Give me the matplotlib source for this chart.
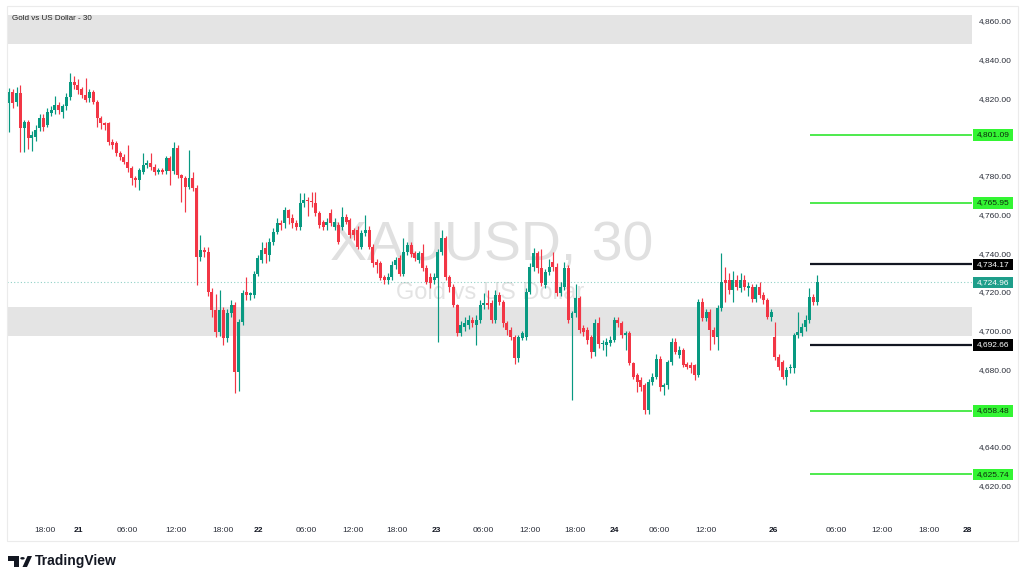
import matplotlib
matplotlib.use('Agg')
import matplotlib.pyplot as plt
from matplotlib.patches import Rectangle, Circle, Polygon
from matplotlib.transforms import blended_transform_factory
from matplotlib.ticker import FuncFormatter
import numpy as np

plt.rcParams['font.family'] = ['Liberation Sans', 'DejaVu Sans']

# ---------------- data (30-minute XAUUSD candles) ----------------
opens = [
    4817.5, 4823.5, 4818.3, 4822.7, 4804.6, 4807.7, 4799.4, 4800.2, 4804.6, 4809.7,
    4806.3, 4812.3, 4814.0, 4816.6, 4813.2, 4815.8, 4820.9, 4828.3, 4827.0, 4824.8,
    4821.8, 4820.0, 4823.5, 4818.3, 4809.7, 4807.1, 4807.1, 4797.7, 4796.8, 4792.0,
    4789.9, 4787.3, 4783.9, 4778.7, 4777.9, 4782.2, 4785.6, 4786.5, 4784.7, 4782.2,
    4783.0, 4782.5, 4789.0, 4782.5, 4794.2, 4780.4, 4778.7, 4774.4, 4778.7, 4773.5,
    4738.2, 4741.7, 4740.8, 4720.1, 4710.6, 4699.4, 4710.6, 4696.0, 4708.9, 4713.2,
    4678.7, 4704.6, 4720.0, 4718.4, 4718.4, 4729.2, 4736.5, 4742.5, 4739.0, 4745.9,
    4751.1, 4755.4, 4755.4, 4762.3, 4758.0, 4755.4, 4753.7, 4765.7, 4767.1, 4767.1,
    4765.7, 4760.6, 4756.3, 4754.5, 4760.6, 4753.7, 4754.5, 4753.7, 4758.8, 4757.1,
    4752.0, 4752.0, 4743.3, 4750.2, 4752.0, 4743.3, 4735.5, 4734.7, 4727.8, 4726.1,
    4727.8, 4733.9, 4737.3, 4729.5, 4740.8, 4744.2, 4739.9, 4736.5, 4739.9, 4732.2,
    4727.9, 4726.1, 4727.0, 4740.8, 4747.7, 4727.9, 4722.7, 4713.2, 4698.6, 4702.0,
    4702.9, 4705.5, 4702.9, 4705.5, 4713.2, 4714.1, 4714.1, 4705.5, 4718.4, 4715.0,
    4703.8, 4700.3, 4696.9, 4685.7, 4696.4, 4696.9, 4720.1, 4733.0, 4739.9, 4732.2,
    4723.6, 4730.4, 4735.6, 4733.0, 4719.3, 4722.7, 4732.2, 4706.4, 4708.9, 4716.7,
    4701.2, 4700.3, 4696.9, 4689.1, 4704.0, 4693.0, 4692.6, 4693.4, 4695.1, 4705.4,
    4703.7, 4697.7, 4698.9, 4683.1, 4677.0, 4674.4, 4671.9, 4658.9, 4673.6, 4676.2,
    4685.6, 4671.0, 4671.9, 4683.9, 4694.3, 4687.4, 4689.9, 4683.0, 4682.2, 4682.2,
    4677.0, 4714.9, 4706.3, 4709.7, 4700.3, 4696.8, 4711.5, 4726.1, 4726.1, 4721.0,
    4726.1, 4722.0, 4726.1, 4722.2, 4722.7, 4716.6, 4722.7, 4718.4, 4715.8, 4706.8,
    4696.8, 4686.5, 4683.9, 4676.2, 4680.5, 4680.5, 4697.7, 4698.9, 4702.0, 4705.4,
    4717.5, 4714.9]

highs = [
    4825.2, 4825.0, 4826.0, 4827.0, 4809.0, 4809.0, 4803.0, 4806.0, 4812.0, 4812.0,
    4815.0, 4816.0, 4821.0, 4818.0, 4817.0, 4823.0, 4833.0, 4831.3, 4830.0, 4826.0,
    4830.4, 4825.0, 4824.5, 4819.0, 4811.0, 4808.0, 4808.0, 4799.0, 4798.0, 4793.0,
    4791.0, 4796.0, 4785.0, 4780.0, 4784.0, 4791.6, 4788.0, 4791.6, 4786.0, 4784.0,
    4784.0, 4790.0, 4790.0, 4797.3, 4796.0, 4781.0, 4780.0, 4793.4, 4782.0, 4775.0,
    4749.4, 4743.0, 4743.0, 4722.0, 4719.0, 4721.0, 4712.0, 4711.0, 4716.0, 4715.0,
    4706.0, 4721.0, 4727.8, 4720.0, 4731.0, 4739.0, 4746.0, 4746.0, 4748.0, 4753.0,
    4758.0, 4757.0, 4764.0, 4763.0, 4760.0, 4757.0, 4770.9, 4770.9, 4769.0, 4771.8,
    4771.8, 4762.0, 4757.0, 4758.0, 4763.0, 4758.0, 4756.0, 4764.0, 4760.0, 4758.0,
    4753.0, 4754.0, 4752.0, 4759.7, 4754.0, 4745.0, 4737.0, 4736.0, 4729.0, 4730.0,
    4736.0, 4738.0, 4739.0, 4748.0, 4746.0, 4746.0, 4741.0, 4741.0, 4745.0, 4734.0,
    4730.0, 4730.0, 4742.0, 4752.0, 4749.0, 4729.0, 4724.0, 4714.0, 4705.0, 4707.0,
    4708.0, 4707.0, 4708.0, 4716.0, 4719.3, 4721.0, 4716.0, 4721.0, 4720.0, 4716.0,
    4705.0, 4702.0, 4698.0, 4698.0, 4700.0, 4722.0, 4735.0, 4742.5, 4741.0, 4742.0,
    4732.0, 4737.0, 4740.8, 4735.0, 4725.0, 4735.6, 4734.0, 4710.0, 4724.0, 4718.0,
    4703.0, 4702.0, 4698.0, 4706.0, 4707.0, 4695.0, 4696.0, 4697.0, 4707.0, 4707.0,
    4705.0, 4700.0, 4700.0, 4684.0, 4678.0, 4676.0, 4673.0, 4675.0, 4678.0, 4688.0,
    4687.0, 4673.0, 4685.0, 4696.0, 4696.0, 4692.0, 4691.0, 4684.0, 4684.0, 4683.0,
    4716.5, 4717.0, 4711.0, 4711.0, 4702.0, 4713.0, 4739.9, 4733.0, 4730.0, 4731.0,
    4729.0, 4730.0, 4728.7, 4725.0, 4724.0, 4724.0, 4725.0, 4720.0, 4717.0, 4711.0,
    4704.6, 4688.0, 4685.0, 4681.0, 4683.0, 4699.0, 4709.7, 4704.0, 4708.0, 4722.0,
    4719.0, 4728.7]

lows = [
    4802.8, 4815.0, 4816.0, 4792.5, 4792.5, 4794.0, 4793.0, 4798.0, 4803.0, 4803.0,
    4805.0, 4811.0, 4812.0, 4812.0, 4810.0, 4814.0, 4819.0, 4825.0, 4822.0, 4820.0,
    4818.0, 4818.0, 4817.0, 4805.4, 4804.0, 4803.7, 4796.0, 4794.0, 4790.0, 4788.0,
    4786.0, 4782.0, 4775.3, 4774.4, 4772.7, 4781.0, 4784.0, 4783.0, 4780.4, 4781.0,
    4781.0, 4781.0, 4775.0, 4781.0, 4779.0, 4766.7, 4761.5, 4773.0, 4772.0, 4723.6,
    4736.0, 4738.0, 4718.0, 4707.0, 4696.8, 4697.0, 4692.5, 4694.0, 4707.0, 4668.0,
    4669.0, 4703.0, 4716.0, 4716.0, 4717.0, 4728.0, 4735.0, 4735.0, 4736.0, 4744.0,
    4750.0, 4752.0, 4753.0, 4755.0, 4753.0, 4752.0, 4752.0, 4764.0, 4759.0, 4764.0,
    4759.0, 4753.0, 4752.0, 4752.0, 4754.0, 4752.0, 4745.0, 4752.0, 4755.0, 4748.0,
    4747.0, 4742.0, 4742.0, 4749.0, 4742.0, 4733.0, 4730.0, 4726.0, 4724.0, 4724.0,
    4726.0, 4732.0, 4728.0, 4728.0, 4739.0, 4738.0, 4736.0, 4735.0, 4731.0, 4724.0,
    4722.0, 4724.0, 4694.3, 4739.0, 4726.0, 4720.0, 4712.0, 4697.0, 4697.0, 4700.0,
    4701.0, 4702.0, 4692.6, 4704.0, 4711.0, 4711.0, 4704.0, 4704.0, 4713.0, 4702.0,
    4698.0, 4695.0, 4683.0, 4684.0, 4695.0, 4695.0, 4719.0, 4731.0, 4730.0, 4723.0,
    4722.0, 4729.0, 4731.0, 4718.0, 4718.0, 4721.0, 4704.0, 4664.1, 4707.0, 4699.0,
    4697.0, 4693.0, 4686.0, 4687.0, 4691.0, 4690.0, 4687.0, 4692.0, 4694.0, 4702.0,
    4696.0, 4690.0, 4682.0, 4675.0, 4668.4, 4669.0, 4657.0, 4657.0, 4672.0, 4675.0,
    4669.0, 4666.7, 4670.0, 4682.0, 4688.0, 4686.0, 4681.0, 4680.0, 4678.0, 4674.4,
    4676.0, 4705.0, 4705.0, 4690.0, 4693.0, 4690.0, 4710.0, 4715.0, 4719.0, 4715.0,
    4721.0, 4720.0, 4721.0, 4718.0, 4715.0, 4715.0, 4717.0, 4714.0, 4706.0, 4705.0,
    4685.0, 4679.6, 4675.0, 4671.9, 4678.0, 4678.0, 4696.0, 4697.0, 4700.0, 4704.0,
    4713.0, 4713.0]

closes = [
    4823.5, 4817.5, 4822.7, 4804.6, 4807.7, 4799.4, 4801.1, 4803.7, 4809.7, 4805.4,
    4813.2, 4814.0, 4816.6, 4814.0, 4815.8, 4820.9, 4828.7, 4827.0, 4824.4, 4821.8,
    4819.2, 4823.5, 4818.3, 4809.7, 4807.1, 4806.3, 4797.7, 4796.0, 4791.6, 4789.9,
    4787.3, 4783.9, 4778.7, 4777.9, 4783.0, 4785.6, 4786.5, 4784.7, 4782.2, 4783.0,
    4781.8, 4789.0, 4782.5, 4794.2, 4780.4, 4778.7, 4774.4, 4778.7, 4773.5, 4738.2,
    4741.7, 4740.8, 4720.1, 4710.6, 4699.4, 4710.6, 4696.0, 4708.9, 4713.2, 4678.7,
    4704.6, 4719.2, 4718.4, 4719.2, 4729.2, 4737.3, 4741.6, 4739.5, 4745.9, 4751.1,
    4755.4, 4754.5, 4762.3, 4758.0, 4755.4, 4753.7, 4765.7, 4767.5, 4766.8, 4766.6,
    4760.6, 4754.5, 4753.7, 4756.3, 4755.4, 4756.3, 4745.9, 4758.8, 4756.3, 4749.4,
    4749.4, 4743.3, 4750.2, 4752.0, 4743.3, 4734.7, 4733.8, 4727.0, 4726.1, 4727.8,
    4733.9, 4736.4, 4729.5, 4740.8, 4744.2, 4739.5, 4737.3, 4739.9, 4732.2, 4725.3,
    4724.4, 4727.9, 4740.8, 4747.7, 4727.9, 4722.7, 4713.2, 4698.6, 4702.9, 4703.8,
    4705.5, 4703.8, 4705.5, 4713.2, 4714.1, 4713.2, 4705.5, 4718.4, 4715.0, 4703.8,
    4700.3, 4696.9, 4685.7, 4696.9, 4698.6, 4720.1, 4733.0, 4739.9, 4732.2, 4724.4,
    4730.4, 4733.0, 4733.0, 4719.3, 4722.7, 4732.2, 4705.5, 4708.9, 4716.7, 4700.3,
    4699.5, 4695.1, 4689.1, 4704.0, 4693.0, 4693.5, 4694.3, 4695.1, 4705.5, 4703.7,
    4697.7, 4698.9, 4683.1, 4676.2, 4673.6, 4671.0, 4658.9, 4673.6, 4676.2, 4685.6,
    4671.0, 4671.9, 4683.9, 4694.3, 4689.1, 4689.9, 4682.2, 4681.3, 4680.5, 4677.0,
    4714.9, 4706.3, 4709.7, 4700.3, 4696.8, 4711.5, 4725.3, 4724.4, 4721.0, 4726.1,
    4722.7, 4726.1, 4722.7, 4723.0, 4716.6, 4722.3, 4718.4, 4715.8, 4707.2, 4709.7,
    4686.5, 4681.3, 4676.2, 4679.6, 4681.3, 4697.7, 4699.4, 4702.0, 4705.4, 4717.5,
    4714.9, 4724.96]

# time axis (bar-index positions of the labels)
time_tick_pos = [9.4, 18.0, 31.0, 43.5, 55.8, 65.2, 77.7, 89.7, 101.4, 111.6,
                 123.9, 135.9, 147.8, 158.0, 169.8, 182.0, 199.7, 215.9, 227.9,
                 240.2, 250.1]
time_tick_labels = ['18:00', '21', '06:00', '12:00', '18:00', '22', '06:00', '12:00',
                    '18:00', '23', '06:00', '12:00', '18:00', '24', '06:00', '12:00',
                    '26', '06:00', '12:00', '18:00', '28']
day_labels = ['21', '22', '23', '24', '26', '28']

# price-scale labels (4,800 and 4,660 are hidden behind level labels in the original)
price_ticks = [4620, 4640, 4680, 4700, 4720, 4740, 4760, 4780, 4820, 4840, 4860]

green_levels = [4801.09, 4765.95, 4658.48, 4625.74]
black_levels = [4734.17, 4692.66]
last_price = 4724.96
gray_zones = [(4848.1, 4863.1), (4697.2, 4712.2)]
level_start_bar = 209.1

title_text = 'Gold vs US Dollar - 30'
watermark_main = 'XAUUSD, 30'
watermark_sub = 'Gold vs US Dollar'

UP = '#089981'
DOWN = '#F23645'
LEVEL_GREEN = '#2fe62f'
TEXT = '#2a2e39'

# ---------------- figure ----------------
W, H = 1024, 582
fig = plt.figure(figsize=(W / 100, H / 100), dpi=100)
fig.patch.set_facecolor('white')
ax = fig.add_axes([7 / W, 1 - 518 / H, 965 / W, 511 / H])
ax.set_facecolor('white')
XMIN, XMAX = -0.52, 251.44
ax.set_xlim(XMIN, XMAX)
ax.set_ylim(4603.2, 4867.2)
for s in ax.spines.values():
    s.set_visible(False)

# zones
for lo, hi in gray_zones:
    ax.axhspan(lo, hi, color='#e4e4e4', lw=0, zorder=0)

# watermark
ax.text(0.5026, 0.532, watermark_main, transform=ax.transAxes, ha='center', va='center',
        fontsize=40, color='#e0e0e0', zorder=1)
ax.text(0.5005, 0.440, watermark_sub, transform=ax.transAxes, ha='center', va='center',
        fontsize=17, color='#e3e3e3', zorder=1)

# candles
o = np.array(opens); h = np.array(highs); l = np.array(lows); c = np.array(closes)
x = np.arange(len(c))
up = c >= o
cols = np.where(up, UP, DOWN)
body_lo = np.minimum(o, c)
body_h = np.maximum(np.abs(c - o), 0.5)
ax.vlines(x, np.minimum(l, body_lo), np.maximum(h, np.maximum(o, c)), colors=cols,
          linewidth=0.85, zorder=3.9)
ax.bar(x, body_h, bottom=body_lo, width=0.78, color=cols, linewidth=0, zorder=4)

# last price dotted line
ax.axhline(last_price, color=UP, alpha=0.45, lw=0.8, ls=(0, (1, 2)), zorder=2)

# level lines
ax.hlines(green_levels, level_start_bar, XMAX, colors=LEVEL_GREEN, lw=1.2, zorder=5)
ax.hlines(black_levels, level_start_bar, XMAX, colors='#131722', lw=1.6, zorder=5)

# axes ticks
ax.yaxis.tick_right()
ax.set_yticks(price_ticks)
ax.yaxis.set_major_formatter(FuncFormatter(lambda v, p: f'{v:,.2f}'))
ax.tick_params(axis='y', length=0, pad=5, labelsize=6, labelcolor=TEXT)
ax.set_xticks(time_tick_pos)
ax.set_xticklabels(time_tick_labels)
ax.tick_params(axis='x', length=0, pad=6.5, labelsize=6, labelcolor=TEXT)
for t in ax.get_xticklabels():
    if t.get_text() in day_labels:
        t.set_fontweight('bold')
        t.set_color('#131722')

# price labels on axis
trans = blended_transform_factory(ax.transAxes, ax.transData)
def price_box(v, fc, tc):
    ax.add_patch(Rectangle((1.001, v - 2.95), 0.0415, 5.9, transform=trans, fc=fc,
                           ec='none', clip_on=False, zorder=6))
    ax.text(1.0218, v, f'{v:,.2f}', transform=trans, ha='center', va='center',
            fontsize=6, color=tc, clip_on=False, zorder=7)

for v in green_levels:
    price_box(v, '#33f533', '#0c2a0c')
for v in black_levels:
    price_box(v, '#000000', 'white')
price_box(last_price, '#1e9e8a', 'white')

# title
fig.text(12 / W, 1 - 18.5 / H, title_text, fontsize=5.8, color='#222222',
         ha='left', va='center')

# frame
def fp(px, py):
    return (px / W, 1 - py / H)
fig.add_artist(Rectangle(fp(7, 541), 1011 / W, 535 / H, fill=False, ec='#ebebeb',
                         lw=0.8, transform=fig.transFigure))

# TradingView logo
dark = '#131722'
fig.add_artist(Polygon([fp(8, 556), fp(19, 556), fp(19, 567), fp(14, 567), fp(14, 560.5),
                        fp(8, 560.5)], closed=True, fc=dark, ec='none',
                       transform=fig.transFigure))
fig.add_artist(Circle(fp(22.5, 558.3), 2.2 / W, fc=dark, ec='none', transform=fig.transFigure))
fig.add_artist(Polygon([fp(22.5, 567), fp(27, 567), fp(32, 556), fp(27.5, 556)], closed=True,
                       fc=dark, ec='none', transform=fig.transFigure))
fig.text(35 / W, 1 - 561.5 / H, 'TradingView', fontsize=10, fontweight='bold', color=dark,
         ha='left', va='center')

fig.savefig('out.png', dpi=100, facecolor='white')
